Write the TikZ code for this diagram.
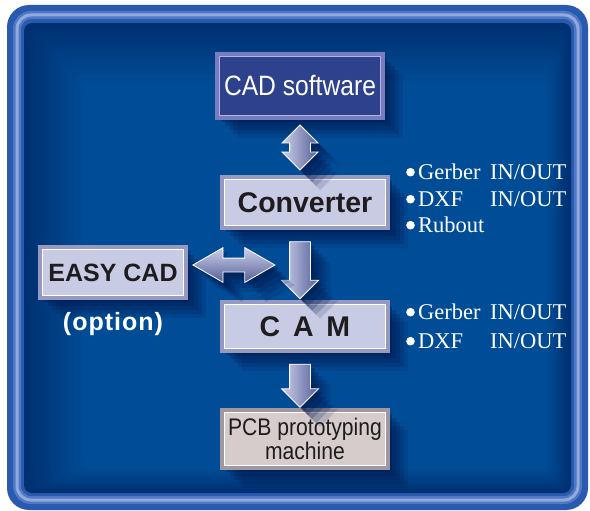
\documentclass[tikz,border=0pt]{standalone}
\usepackage{fontspec}
\setmainfont{Liberation Serif}
\setsansfont{Liberation Sans}
\newfontfamily\narrowsf[FakeStretch=0.88]{Liberation Sans}
\usepackage{tikz}
\usetikzlibrary{arrows.meta, calc, shapes.arrows, shadows}

\definecolor{bgmain}{RGB}{0,76,150}
\definecolor{bgdark}{RGB}{0,48,112}
\definecolor{frameblue}{RGB}{40,90,175}
\definecolor{framemid}{RGB}{80,120,195}
\definecolor{framelight}{RGB}{145,170,222}
\definecolor{shadowblue}{RGB}{0,22,75}
\definecolor{cadfill}{RGB}{45,65,140}
\definecolor{cadedge}{RGB}{118,124,190}
\definecolor{cadinner}{RGB}{175,180,225}
\definecolor{boxlight}{RGB}{200,203,228}
\definecolor{lightedge}{RGB}{150,153,192}
\definecolor{pcbfill}{RGB}{214,204,204}
\definecolor{pcbedge}{RGB}{160,152,160}
\definecolor{boxtext}{RGB}{30,28,30}
\definecolor{arrowlight}{RGB}{205,208,236}
\definecolor{arrowdark}{RGB}{85,95,150}

\begin{document}
\begin{tikzpicture}[x=1pt, y=-1pt,
        deepshadow/.style={
                drop shadow={shadow xshift=4pt, shadow yshift=-4pt, fill=shadowblue, opacity=.3},
                drop shadow={shadow xshift=8pt, shadow yshift=-8pt, fill=shadowblue, opacity=.25},
                drop shadow={shadow xshift=12pt, shadow yshift=-12pt, fill=shadowblue, opacity=.22},
                drop shadow={shadow xshift=16pt, shadow yshift=-16pt, fill=shadowblue, opacity=.18},
                drop shadow={shadow xshift=20pt, shadow yshift=-20pt, fill=shadowblue, opacity=.14}},
        innerline/.style={path picture={
                \draw [#1, line width=1.2pt] ([shift={(2.8pt,-2.8pt)}]path picture bounding box.north west) rectangle ([shift={(-2.8pt,2.8pt)}]path picture bounding box.south east);}},
        box/.style={deepshadow, draw=#1, line width=4pt, inner sep=0pt, align=center, minimum width=166pt},
        cadbox/.style={box=cadedge, fill=cadfill, innerline=cadinner, text=white, font=\narrowsf\fontsize{28}{30}\selectfont, minimum height=64pt},
        lightbox/.style={box=lightedge, fill=boxlight, innerline=white, text=boxtext, font=\sffamily\bfseries\fontsize{28.5}{30}\selectfont, minimum height=51pt},
        pcbbox/.style={box=pcbedge, fill=pcbfill, innerline=white, text=boxtext, font=\narrowsf\fontsize{24}{22}\selectfont, minimum height=58pt},
        arrowfill/.style={deepshadow, draw=white, line width=0.8pt, left color=arrowlight, right color=arrowdark},
        vlink/.style={arrowfill, double arrow, shape border rotate=90, inner sep=10pt, double arrow head extend=7.5pt, minimum height=#1},
        downlink/.style={arrowfill, single arrow, shape border rotate=270, inner sep=10pt, single arrow head extend=8pt, minimum height=#1},
        hlink/.style={deepshadow, draw=white, line width=0.8pt, top color=arrowlight, bottom color=arrowdark, double arrow, inner sep=6.5pt, double arrow head extend=10.5pt, double arrow tip angle=60, minimum height=#1},
        fmtlist/.style={text=white, inner sep=0pt, anchor=base west, font=\fontsize{22.5}{26}\selectfont}]
        \useasboundingbox (0,0) rectangle (590,511);
        \fill [frameblue, rounded corners=22pt] (7,5) rectangle (588,510);
        \draw [framemid, line width=8pt, rounded corners=14pt] (17,15) rectangle (578,500);
        \draw [framelight, line width=3pt, rounded corners=14pt] (17,15) rectangle (578,500);
        \foreach \i [evaluate=\i as \pct using 5*\i] in {0,...,20}{
            \fill [bgmain!\pct!bgdark, rounded corners=8pt] ({24+3*\i}, {23+3*\i}) rectangle ({571-1.2*\i}, {493-1.2*\i});
        }

        \node [cadbox] (cad) at (300,86) {CAD software};
        \node [lightbox] (conv) at (305,202.5) {Converter};
        \node [lightbox, minimum width=146pt, font=\sffamily\bfseries\fontsize{25}{27}\selectfont] (easy) at (113,272.5) {EASY CAD};
        \node [lightbox, minimum height=49pt] (cam) at (305,326.5) {C\hspace{0.45em}A\hspace{0.45em}M};
        \node [pcbbox] (pcb) at (305,439) {PCB prototyping\\machine};
        \node [text=white, anchor=base, font=\sffamily\bfseries\fontsize{25}{27}\selectfont\addfontfeature{LetterSpace=4}] (opt) at (113,330) {(option)};

        \node [vlink=45pt] (link1) at ($(cad.south)!.5!(conv.north -| cad.south)$) {};
        \node [downlink=57pt] (link2) at ($(conv.south -| cad.south)!.5!(cam.north -| cad.south)$) {};
        \node [downlink=43pt] (link3) at ($(cam.south -| cad.south)!.5!(pcb.north -| cad.south)$) {};
        \node [hlink=82pt] (link4) at ($(easy.east |- link2)!.41!(link2)$) {};

        \foreach \y in {179, 206, 232, 319, 348}{
            \fill [white] (410.5, {\y - 6.8}) circle (4.3pt);
        }
        \node [fmtlist] (convgerber) at (418,179) {\makebox[72pt][l]{Gerber}IN/OUT};
        \node [fmtlist] (convdxf) at (418,206) {\makebox[72pt][l]{DXF}IN/OUT};
        \node [fmtlist] (convrubout) at (418,232) {Rubout};
        \node [fmtlist] (camgerber) at (418,319) {\makebox[72pt][l]{Gerber}IN/OUT};
        \node [fmtlist] (camdxf) at (418,348) {\makebox[72pt][l]{DXF}IN/OUT};
    \end{tikzpicture}
\end{document}
